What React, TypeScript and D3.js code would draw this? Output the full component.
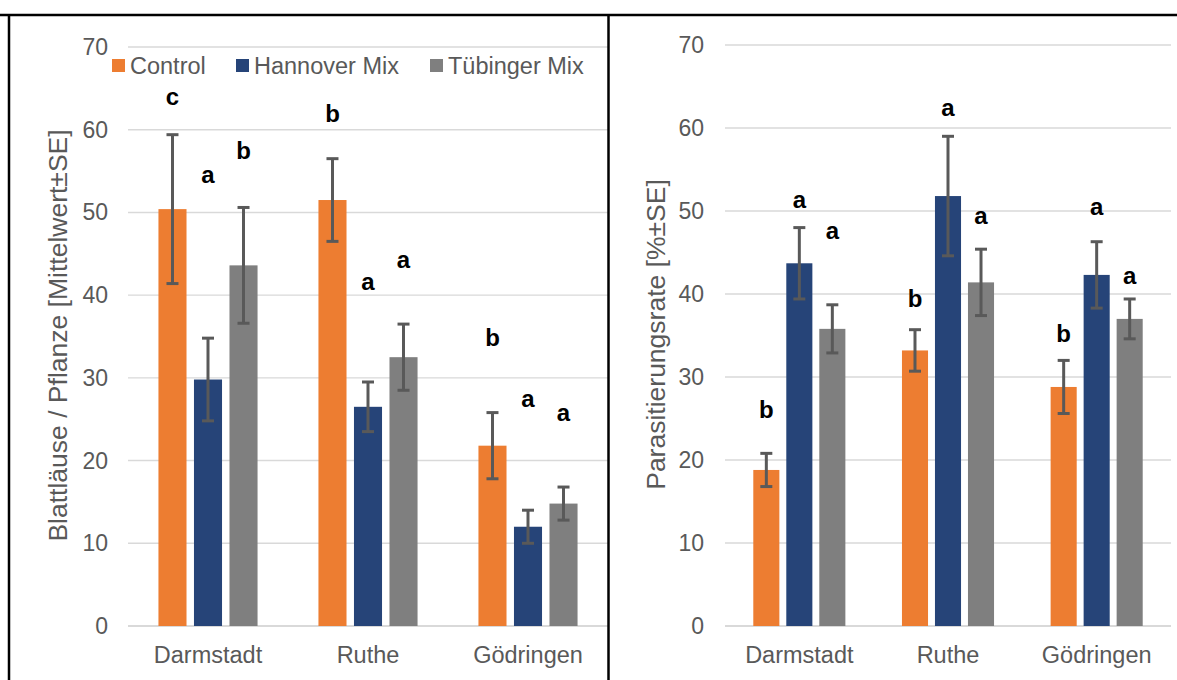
import React from "react";
import * as d3 from "d3";

// Sites and treatments
const sites = ["Darmstadt", "Ruthe", "Gödringen"];
const treatments = ["Control", "Hannover Mix", "Tübinger Mix"];
const treatmentColors = ["#ED7D31", "#264478", "#7F7F7F"];
const yTicks = [0, 10, 20, 30, 40, 50, 60, 70];

// Aphids per plant (mean ± SE), one row per site, columns per treatment
const aphidMeans = [
  [50.4, 29.8, 43.6],
  [51.5, 26.5, 32.5],
  [21.8, 12.0, 14.8],
];
const aphidSE = [
  [9.0, 5.0, 7.0],
  [5.0, 3.0, 4.0],
  [4.0, 2.0, 2.0],
];
const aphidLetters = [
  ["c", "a", "b"],
  ["b", "a", "a"],
  ["b", "a", "a"],
];
// value level at which each significance letter sits
const aphidLetterLevels = [
  [64.0, 54.6, 57.5],
  [62.0, 41.6, 44.3],
  [34.9, 27.5, 25.8],
];

// Parasitism rate in % (mean ± SE)
const parasMeans = [
  [18.8, 43.7, 35.8],
  [33.2, 51.8, 41.4],
  [28.8, 42.3, 37.0],
];
const parasSE = [
  [2.0, 4.3, 2.9],
  [2.5, 7.2, 4.0],
  [3.2, 4.0, 2.4],
];
const parasLetters = [
  ["b", "a", "a"],
  ["b", "a", "a"],
  ["b", "a", "a"],
];
const parasLetterLevels = [
  [26.1, 51.4, 47.6],
  [39.5, 62.5, 49.4],
  [35.2, 50.6, 42.2],
];

const FONT = "Arial, 'Liberation Sans', sans-serif";
const TEXT_GREY = "#595959";
const GRID = "#D9D9D9";
const ERR = "#595959";

type PanelProps = {
  left: number;
  right: number;
  top: number;
  bottom: number;
  means: number[][];
  se: number[][];
  letters: string[][];
  letterLevels: number[][];
  tickX: number;
  title: string;
  titleX: number;
};

function Panel(p: PanelProps) {
  const y = d3.scaleLinear().domain([0, 70]).range([p.bottom, p.top]);
  const x0 = d3.scaleBand<string>().domain(sites).range([p.left, p.right]).padding(0);
  const bw = x0.bandwidth();
  const cluster = bw * 0.666;
  const x1 = d3
    .scaleBand<string>()
    .domain(treatments)
    .range([(bw - cluster) / 2, (bw + cluster) / 2])
    .paddingInner(0.21)
    .paddingOuter(0.105);
  const barW = x1.bandwidth();
  const cap = 6;
  const titleY = (p.top + p.bottom) / 2 - 1;

  return (
    <g>
      {yTicks.map((t) => (
        <g key={t}>
          <line
            x1={p.left}
            x2={p.right}
            y1={y(t)}
            y2={y(t)}
            stroke={GRID}
            strokeWidth={t === 0 ? 2 : 1.4}
          />
          <text
            x={p.tickX}
            y={y(t)}
            textAnchor="end"
            dominantBaseline="central"
            fontFamily={FONT}
            fontSize={23}
            fill={TEXT_GREY}
          >
            {t}
          </text>
        </g>
      ))}
      {sites.map((s, i) => (
        <g key={s}>
          {treatments.map((tr, j) => {
            const cx = (x0(s) as number) + (x1(tr) as number) + barW / 2;
            const v = p.means[i][j];
            const e = p.se[i][j];
            return (
              <g key={tr}>
                <rect
                  x={cx - barW / 2}
                  y={y(v)}
                  width={barW}
                  height={y(0) - y(v)}
                  fill={treatmentColors[j]}
                />
                <line x1={cx} x2={cx} y1={y(v + e)} y2={y(v - e)} stroke={ERR} strokeWidth={3} />
                <line x1={cx - cap} x2={cx + cap} y1={y(v + e)} y2={y(v + e)} stroke={ERR} strokeWidth={3} />
                <line x1={cx - cap} x2={cx + cap} y1={y(v - e)} y2={y(v - e)} stroke={ERR} strokeWidth={3} />
                <text
                  x={cx}
                  y={y(p.letterLevels[i][j])}
                  textAnchor="middle"
                  dominantBaseline="central"
                  fontFamily={FONT}
                  fontWeight="bold"
                  fontSize={24}
                  fill="#000"
                >
                  {p.letters[i][j]}
                </text>
              </g>
            );
          })}
          <text
            x={(x0(s) as number) + bw / 2}
            y={655}
            textAnchor="middle"
            dominantBaseline="central"
            fontFamily={FONT}
            fontSize={23.5}
            fill={TEXT_GREY}
          >
            {s}
          </text>
        </g>
      ))}
      <text
        transform={`translate(${p.titleX},${titleY}) rotate(-90)`}
        textAnchor="middle"
        dominantBaseline="central"
        fontFamily={FONT}
        fontSize={26.5}
        fill={TEXT_GREY}
      >
        {p.title}
      </text>
    </g>
  );
}

export default function App() {
  const legendX = [112, 236, 430];
  return (
    <svg
      width={1177}
      height={680}
      style={{ position: "fixed", left: 0, top: 0, display: "block", background: "#fff" }}
    >
      <rect x={0} y={0} width={1177} height={680} fill="#fff" />
      <Panel
        left={128}
        right={608}
        top={47}
        bottom={626}
        means={aphidMeans}
        se={aphidSE}
        letters={aphidLetters}
        letterLevels={aphidLetterLevels}
        tickX={108}
        title="Blattläuse / Pflanze [Mittelwert±SE]"
        titleX={58}
      />
      <Panel
        left={725}
        right={1171}
        top={45}
        bottom={626}
        means={parasMeans}
        se={parasSE}
        letters={parasLetters}
        letterLevels={parasLetterLevels}
        tickX={704}
        title="Parasitierungsrate [%±SE]"
        titleX={656}
      />
      {treatments.map((t, j) => (
        <g key={t}>
          <rect x={legendX[j]} y={59} width={13} height={13} fill={treatmentColors[j]} />
          <text
            x={legendX[j] + 18}
            y={66}
            dominantBaseline="central"
            fontFamily={FONT}
            fontSize={23.5}
            fill={TEXT_GREY}
          >
            {t}
          </text>
        </g>
      ))}
      {/* frame lines */}
      <line x1={0} x2={1177} y1={15} y2={15} stroke="#000" strokeWidth={2.5} />
      <line x1={9} x2={9} y1={14} y2={680} stroke="#000" strokeWidth={2.5} />
      <line x1={608.5} x2={608.5} y1={14} y2={680} stroke="#000" strokeWidth={2.5} />
    </svg>
  );
}
